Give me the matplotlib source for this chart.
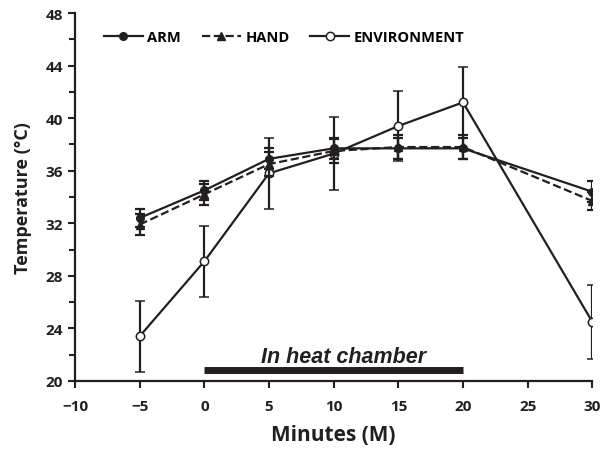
import matplotlib
matplotlib.use('Agg')
import matplotlib.pyplot as plt
from matplotlib.lines import Line2D
from matplotlib.ticker import MultipleLocator

plt.rcParams['font.family'] = ['Open Sans', 'DejaVu Sans']
plt.rcParams['font.weight'] = 'bold'
plt.rcParams['axes.unicode_minus'] = True

minutes = [-5, 0, 5, 10, 15, 20, 30]
arm = [32.4, 34.5, 36.9, 37.7, 37.7, 37.7, 34.4]
arm_err = [0.7, 0.7, 0.8, 0.8, 0.8, 0.8, 0.8]
hand = [31.9, 34.2, 36.5, 37.5, 37.8, 37.8, 33.7]
hand_err = [0.8, 0.8, 0.9, 0.9, 0.9, 0.9, 0.7]
env = [23.4, 29.1, 35.8, 37.3, 39.4, 41.2, 24.5]
env_err = [2.7, 2.7, 2.7, 2.75, 2.7, 2.7, 2.8]

chamber_start, chamber_end = 0, 20

fig = plt.figure(figsize=(6.05, 4.52), dpi=100)
ax = fig.add_axes([0.124, 0.155, 0.855, 0.814])

col = '#231f20'
lw = 1.6
ax.errorbar(minutes, env, yerr=env_err, color=col, lw=lw, marker='o',
            ms=6, mfc='white', mec=col, mew=1.1, capsize=3.5, elinewidth=lw,
            capthick=lw, zorder=3)
ax.errorbar(minutes, hand, yerr=hand_err, color=col, lw=lw, ls='--',
            marker='^', ms=5.5, mfc=col, mec=col, capsize=3.5, elinewidth=lw,
            capthick=lw, zorder=4)
ax.errorbar(minutes, arm, yerr=arm_err, color=col, lw=lw, marker='o',
            ms=5.5, mfc=col, mec=col, capsize=3.5, elinewidth=lw,
            capthick=lw, zorder=5)

# heat chamber bar
ax.plot([chamber_start, chamber_end], [20.8, 20.8], color=col, lw=5,
        solid_capstyle='butt', zorder=2)
ax.text(10.8, 21.45, 'In heat chamber', ha='center', va='baseline',
        fontsize=15.5, fontweight='bold', fontstyle='italic', color=col,
        family=['Liberation Sans', 'DejaVu Sans'])

ax.set_xlim(-10, 30)
ax.set_ylim(20, 48)
ax.xaxis.set_major_locator(MultipleLocator(5))
ax.yaxis.set_major_locator(MultipleLocator(4))
ax.yaxis.set_minor_locator(MultipleLocator(2))
ax.tick_params(axis='both', which='both', direction='out', colors=col,
               width=1.5, labelsize=11)
ax.tick_params(axis='both', which='major', length=5)
ax.tick_params(axis='y', which='minor', length=4)
ax.tick_params(axis='x', pad=8)
for s in ['top', 'right']:
    ax.spines[s].set_visible(False)
for s in ['left', 'bottom']:
    ax.spines[s].set_linewidth(1.6)
    ax.spines[s].set_color(col)

ax.set_xlabel('Minutes (M)', fontsize=15, fontweight='bold', color=col,
              labelpad=8)
ax.set_ylabel('Temperature (°C)', fontsize=13, fontweight='bold',
              color=col, labelpad=10)

handles = [
    Line2D([], [], color=col, lw=lw, marker='o', ms=5.5, mfc=col, mec=col),
    Line2D([], [], color=col, lw=lw, ls='--', marker='^', ms=5.5, mfc=col,
           mec=col),
    Line2D([], [], color=col, lw=lw, marker='o', ms=6, mfc='white', mec=col,
           mew=1.1),
]
labels = ['ARM', 'HAND', 'ENVIRONMENT']
ax.legend(handles, labels, ncol=3, frameon=False, loc='upper left',
          bbox_to_anchor=(0.03, 0.99), fontsize=10.5, handlelength=2.7,
          columnspacing=1.4, handletextpad=0.3)

fig.savefig('out.png', dpi=100)
